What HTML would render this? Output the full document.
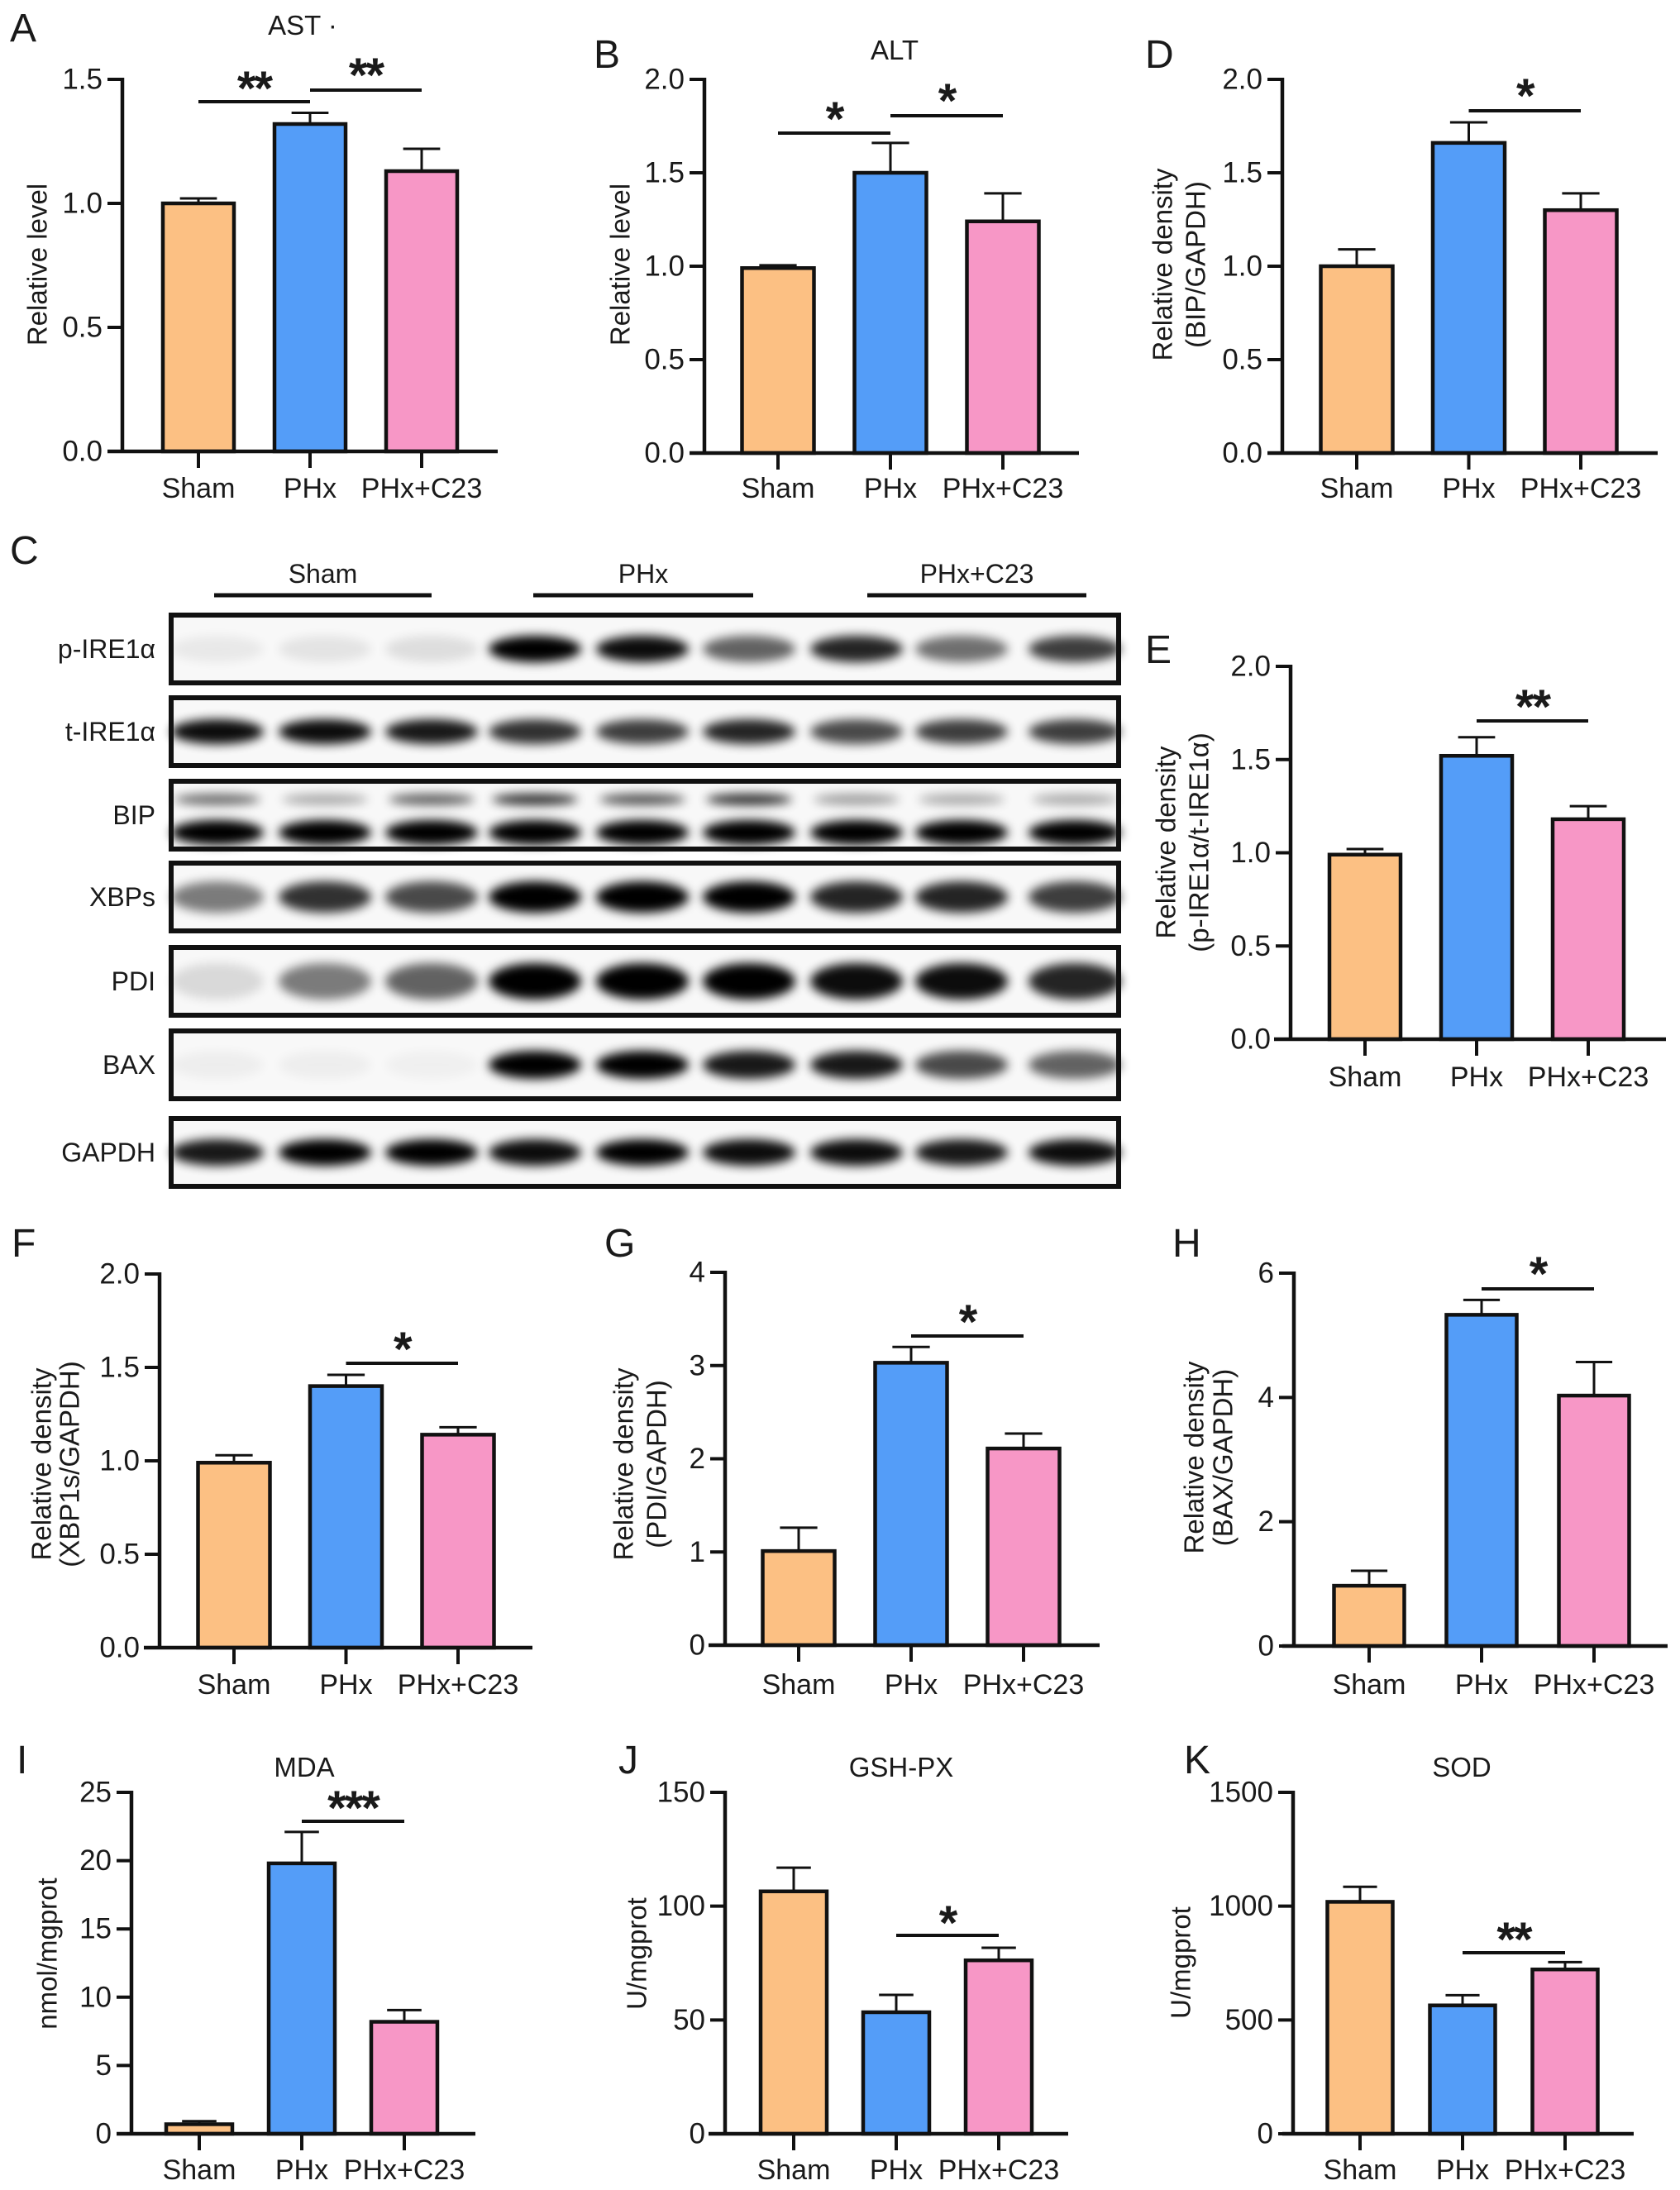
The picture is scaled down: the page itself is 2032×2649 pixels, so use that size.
<!DOCTYPE html>
<html><head><meta charset="utf-8">
<style>
html,body{margin:0;padding:0;background:#fff;}
svg{display:block;}
text{font-family:"Liberation Sans",Arial,sans-serif;fill:#1a1a1a;}
.nar{font-family:"Liberation Sans Narrow","Liberation Sans",sans-serif;}
</style></head>
<body>
<svg id="fig" width="2032" height="2649" viewBox="0 0 2032 2649" xmlns="http://www.w3.org/2000/svg">
<defs>
<filter id="blur" x="-30%" y="-80%" width="160%" height="260%"><feGaussianBlur stdDeviation="6"/></filter>
</defs>
</svg>
<script>
// ---- data ----
const categories = ["Sham", "PHx", "PHx+C23"];
const astValues = [1.00, 1.32, 1.13];
const astErrors = [0.02, 0.045, 0.09];
const altValues = [0.99, 1.50, 1.24];
const altErrors = [0.015, 0.16, 0.15];
const bipValues = [1.00, 1.66, 1.30];
const bipErrors = [0.09, 0.11, 0.09];
const ireValues = [0.99, 1.52, 1.18];
const ireErrors = [0.03, 0.10, 0.07];
const xbpValues = [0.99, 1.40, 1.14];
const xbpErrors = [0.04, 0.06, 0.04];
const pdiValues = [1.01, 3.03, 2.11];
const pdiErrors = [0.25, 0.17, 0.16];
const baxValues = [0.97, 5.33, 4.03];
const baxErrors = [0.24, 0.24, 0.54];
const mdaValues = [0.7, 19.8, 8.2];
const mdaErrors = [0.22, 2.3, 0.86];
const gshValues = [106.5, 53.4, 76.2];
const gshErrors = [10.4, 7.6, 5.5];
const sodValues = [1019, 564, 722];
const sodErrors = [66, 45, 32];
const ticks15 = ["0.0", "0.5", "1.0", "1.5"];
const ticks20 = ["0.0", "0.5", "1.0", "1.5", "2.0"];
const ticks4 = ["0", "1", "2", "3", "4"];
const ticks6 = ["0", "2", "4", "6"];
const ticks25 = ["0", "5", "10", "15", "20", "25"];
const ticks150 = ["0", "50", "100", "150"];
const ticks1500 = ["0", "500", "1000", "1500"];
const colors = ["#FCC083", "#549DF8", "#F797C6"];
// blot band intensities (lanes 1-9)
const blotRows = ["p-IRE1\u03b1", "t-IRE1\u03b1", "BIP", "XBPs", "PDI", "BAX", "GAPDH"];
const bandPIRE = [0.06, 0.08, 0.1, 1, 0.95, 0.6, 0.85, 0.55, 0.75];
const bandTIRE = [0.95, 0.95, 0.9, 0.8, 0.75, 0.85, 0.7, 0.75, 0.75];
const bandBIP = [1, 1, 1, 1, 1, 1, 1, 1, 1];
const bandBIPup = [0.55, 0.3, 0.6, 0.8, 0.65, 0.8, 0.35, 0.3, 0.3];
const bandXBP = [0.5, 0.8, 0.7, 1, 1, 1, 0.85, 0.85, 0.75];
const bandPDI = [0.12, 0.5, 0.6, 1, 1, 1, 0.95, 0.95, 0.85];
const bandBAX = [0.04, 0.04, 0.03, 1, 1, 0.9, 0.9, 0.7, 0.6];
const bandGAPDH = [0.9, 1, 1, 0.95, 1, 0.95, 0.95, 0.9, 0.95];

const NS = "http://www.w3.org/2000/svg";
const svg = document.getElementById("fig");
function el(tag, attrs, parent, txt) {
  const e = document.createElementNS(NS, tag);
  for (const k in attrs) e.setAttribute(k, attrs[k]);
  if (txt !== undefined) e.textContent = txt;
  (parent || svg).appendChild(e);
  return e;
}

const panels = [
 {id:"a", letter:"A", lx:12, ly:50, title:"AST \u00b7", tx:366, ty:42, values:astValues, errors:astErrors, ticks:ticks15, max:1.5,
  ax:148, xl:130, xr:602, y0:546, yt:96, c0:240, step:135, bw:86, ylab:["Relative level"], ylx:[45], yly:320, xly:602,
  sig:[[0,1,123,"**",95],[1,2,109,"**",79]]},
 {id:"b", letter:"B", lx:718, ly:82, title:"ALT", tx:1082, ty:72, values:altValues, errors:altErrors, ticks:ticks20, max:2,
  ax:852, xl:834, xr:1305, y0:548, yt:96, c0:941, step:136, bw:87, ylab:["Relative level"], ylx:[750], yly:320, xly:602,
  sig:[[0,1,161,"*",132],[1,2,140,"*",110]]},
 {id:"d", letter:"D", lx:1385, ly:82, values:bipValues, errors:bipErrors, ticks:ticks20, max:2,
  ax:1551, xl:1533, xr:2005, y0:548, yt:96, c0:1641, step:135.5, bw:87, ylab:["Relative density","(BIP/GAPDH)"], ylx:[1406,1446], yly:320, xly:602,
  sig:[[1,2,134,"*",104]]},
 {id:"e", letter:"E", lx:1385, ly:802, values:ireValues, errors:ireErrors, ticks:ticks20, max:2,
  ax:1561, xl:1541, xr:2015, y0:1257, yt:806, c0:1651, step:135, bw:86, ylab:["Relative density","(p-IRE1\u03b1/t-IRE1\u03b1)"], ylx:[1410,1450], yly:1019, xly:1314,
  sig:[[1,2,872,"**",843]]},
 {id:"f", letter:"F", lx:14, ly:1520, values:xbpValues, errors:xbpErrors, ticks:ticks20, max:2,
  ax:193, xl:174, xr:644, y0:1993, yt:1541, c0:283, step:135.5, bw:87, ylab:["Relative density","(XBP1s/GAPDH)"], ylx:[50,84], yly:1771, xly:2049, narrow:true,
  sig:[[1,2,1649,"*",1620]]},
 {id:"g", letter:"G", lx:731, ly:1520, values:pdiValues, errors:pdiErrors, ticks:ticks4, max:4,
  ax:877, xl:857, xr:1330, y0:1990, yt:1539, c0:966, step:136, bw:87, ylab:["Relative density","(PDI/GAPDH)"], ylx:[754,794], yly:1771, xly:2049, narrow:true,
  sig:[[1,2,1616,"*",1587]]},
 {id:"h", letter:"H", lx:1418, ly:1520, values:baxValues, errors:baxErrors, ticks:ticks6, max:6,
  ax:1565, xl:1551, xr:2017, y0:1991, yt:1540, c0:1656, step:136, bw:85, ylab:["Relative density","(BAX/GAPDH)"], ylx:[1444,1479], yly:1763, xly:2049, narrow:true,
  sig:[[1,2,1559,"*",1529]]},
 {id:"i", letter:"I", lx:20, ly:2145, title:"MDA", tx:368, ty:2149, values:mdaValues, errors:mdaErrors, ticks:ticks25, max:25,
  ax:159, xl:141, xr:575, y0:2581, yt:2168, c0:241, step:124, bw:80, ylab:["nmol/mgprot"], ylx:[57], yly:2363, xly:2636, narrow:true,
  sig:[[1,2,2203,"***",2175]]},
 {id:"j", letter:"J", lx:748, ly:2145, title:"GSH-PX", tx:1090, ty:2149, values:gshValues, errors:gshErrors, ticks:ticks150, max:150,
  ax:877, xl:857, xr:1292, y0:2581, yt:2168, c0:960, step:124, bw:80, ylab:["U/mgprot"], ylx:[770], yly:2363, xly:2636, narrow:true,
  sig:[[1,2,2341,"*",2314]]},
 {id:"k", letter:"K", lx:1432, ly:2145, title:"SOD", tx:1768, ty:2149, values:sodValues, errors:sodErrors, ticks:ticks1500, max:1500,
  ax:1564, xl:1551, xr:1976, y0:2581, yt:2168, c0:1645, step:124, bw:79, ylab:["U/mgprot"], ylx:[1428], yly:2374, xly:2636, narrow:true,
  sig:[[1,2,2362,"**",2334]]}
];

const starFs = 58;
panels.forEach(p => {
  const g = el("g", {});
  
  
  const yScale = v => p.y0 - (v / p.max) * (p.y0 - p.yt);
  const xScale = i => p.c0 + i * p.step;
  const fam = p.narrow ? "nar" : "";
  const lt = el("text", {x:p.lx, y:p.ly, "font-size":48}, g, p.letter);
  
  
  if (p.title) {
    const t = el("text", {x:p.tx, y:p.ty, "font-size":33, "text-anchor":"middle", class:fam}, g, p.title);
    
    
  }
  p.ylab.forEach((s, k) => {
    const t = el("text", {x:p.ylx[k], y:p.yly, "font-size":33, "text-anchor":"middle", "dominant-baseline":"central",
      transform:`rotate(-90 ${p.ylx[k]} ${p.yly})`}, g, s);
    
    
  });
  p.values.forEach((v, i) => {
    const cx = xScale(i), top = yScale(v), et = yScale(v + p.errors[i]);
    const eb = el("line", {x1:cx, x2:cx, y1:top, y2:et, stroke:"#111", "stroke-width":3}, g);
    
    
    const cap = el("line", {x1:cx - p.bw * 0.26, x2:cx + p.bw * 0.26, y1:et, y2:et, stroke:"#111", "stroke-width":3}, g);
    
    
    const r = el("rect", {x:cx - p.bw / 2, y:top, width:p.bw, height:p.y0 - top, fill:colors[i], stroke:"#111", "stroke-width":4.5}, g);
    
    
    const tk = el("line", {x1:cx, x2:cx, y1:p.y0, y2:p.y0 + 20, stroke:"#111", "stroke-width":4}, g);
    
    
    const lb = el("text", {x:cx, y:p.xly, "font-size":34, "text-anchor":"middle", class:fam}, g, categories[i]);
    
    
  });
  const ya = el("line", {x1:p.ax, x2:p.ax, y1:p.yt - 2, y2:p.y0, stroke:"#111", "stroke-width":4.5}, g);
  
  
  const xa = el("line", {x1:p.xl, x2:p.xr, y1:p.y0, y2:p.y0, stroke:"#111", "stroke-width":4.5}, g);
  
  
  p.ticks.forEach((s, k) => {
    const y = yScale(parseFloat(s));
    const tk = el("line", {x1:p.ax - 18, x2:p.ax, y1:y, y2:y, stroke:"#111", "stroke-width":4}, g);
    
    
    const tl = el("text", {x:p.ax - 24, y:y, "font-size":35, "text-anchor":"end", "dominant-baseline":"central", class:fam}, g, s);
    
    
  });
  p.sig.forEach(s => {
    const x1 = xScale(s[0]), x2 = xScale(s[1]);
    const ln = el("line", {x1:x1, x2:x2, y1:s[2], y2:s[2], stroke:"#111", "stroke-width":4}, g);
    
    
    const st = el("text", {x:(x1 + x2) / 2, y:s[4] + 0.55 * starFs, "font-size":starFs, "font-weight":"bold", "text-anchor":"middle", "letter-spacing":"-2"}, g, s[3]);
    
    
  });
});

// ---- western blot (panel C) ----
const blot = el("g", {});


const cl = el("text", {x:12, y:682, "font-size":48}, blot, "C");


const groupX = [[259, 522], [645, 911], [1049, 1314]];
groupX.forEach((gx, i) => {
  const t = el("text", {x:(gx[0] + gx[1]) / 2, y:705, "font-size":32, "text-anchor":"middle", class:"nar"}, blot, categories[i]);
  
  
  const l = el("line", {x1:gx[0], x2:gx[1], y1:720, y2:720, stroke:"#111", "stroke-width":5}, blot);
  
  
});
const boxTop = [744, 844, 945, 1044, 1146, 1247, 1353];
const boxH = 82;
const laneX = [263, 393, 522, 647, 777, 906, 1036, 1163, 1300];
const bandSets = [bandPIRE, bandTIRE, bandBIP, bandXBP, bandPDI, bandBAX, bandGAPDH];
const bandH = [28, 26, 26, 34, 40, 30, 28];
blotRows.forEach((name, r) => {
  const y = boxTop[r], cy = y + boxH / 2;
  const lab = el("text", {x:188, y:cy, "font-size":32, "text-anchor":"end", "dominant-baseline":"central", class:"nar"}, blot, name);
  
  
  const bg = el("rect", {x:207, y:y, width:1146, height:boxH, fill:"#f8f8f8"}, blot);
  
  
  const bandY = r === 2 ? y + 62 : cy;
  bandSets[r].forEach((a, i) => {
    const b = el("ellipse", {cx:laneX[i], cy:bandY, rx:56, ry:bandH[r] / 2 + 2, fill:"#000", opacity:a, filter:"url(#blur)"}, blot);
    
    
    if (r === 2) {
      const u = el("ellipse", {cx:laneX[i], cy:y + 22, rx:52, ry:7, fill:"#000", opacity:bandBIPup[i], filter:"url(#blur)"}, blot);
      
      
    }
  });
  const fr = el("rect", {x:207, y:y, width:1146, height:boxH, fill:"none", stroke:"#111", "stroke-width":6}, blot);
  
  
});
</script>
</body></html>
